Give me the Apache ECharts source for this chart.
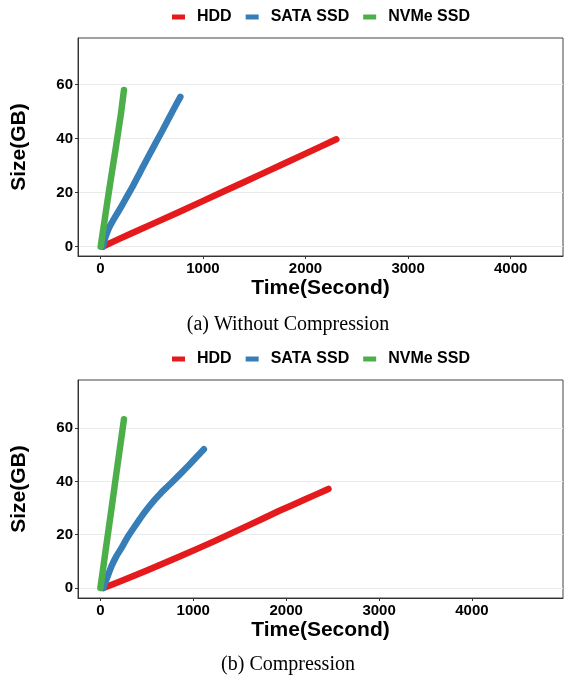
<!DOCTYPE html>
<html>
<head>
<meta charset="utf-8">
<script src="https://cdn.jsdelivr.net/npm/echarts@6/dist/echarts.min.js"></script>
<style>
html,body{margin:0;padding:0;background:#fff;}
#c{width:564px;height:678px;}
</style>
</head>
<body>
<div id="c"></div>
<script>
// ---- data ----
const seriesNames = ['HDD', 'SATA SSD', 'NVMe SSD'];
const xTickValues = [0, 1000, 2000, 3000, 4000];
const yTickValues = [0, 20, 40, 60];
const captions = ['(a) Without Compression', '(b) Compression'];

// (a) Without Compression : [time (s), size (GB)]
const hddA  = [[20,0],[300,4.9],[773,12.9],[1200,20.4],[1585,27.1],[2000,34.4],[2300,39.7]];
const sataA = [[25,0],[50,3.6],[80,6.6],[107,8.6],[150,11.4],[204,14.8],[260,18.6],[320,22.6],[380,27.0],[432,30.8],[520,37.0],[600,42.6],[700,49.8],[780,55.4]];
const nvmeA = [[3,0],[50,12],[100,24.5],[150,36.5],[200,49],[230,57.9]];

// (b) Compression
const hddB  = [[30,0],[250,3.0],[500,6.6],[853,11.8],[1229,17.6],[1600,23.6],[1927,29.0],[2200,33.2],[2455,37.2]];
const sataB = [[30,0],[64,3.1],[118,8.1],[170,11.8],[226,15.0],[300,19.5],[369,23.1],[450,27.2],[520,30.4],[584,33.1],[650,35.6],[720,38.0],[799,40.7],[880,43.5],[950,46.0],[1030,49.0],[1114,52.1]];
const nvmeB = [[0,0],[60,15],[118,29.4],[180,45],[254,63.4]];

const colors = ['#E41A1C', '#377EB8', '#4DAF4A'];
const SANS = 'Liberation Sans, Arial, sans-serif';
const SERIF = 'Liberation Serif, Times New Roman, serif';

function plain(v) { return String(v); }

function xAxisCfg(idx, min, max) {
  return {
    type: 'value', gridIndex: idx, min: min, max: max,
    axisLine: {show: true, onZero: false, lineStyle: {color: '#333', width: 1}},
    axisTick: {show: true, length: 3, customValues: xTickValues, lineStyle: {color: '#333'}},
    axisLabel: {customValues: xTickValues, formatter: plain, fontSize: 15, fontWeight: 'bold', color: '#000', margin: 5, fontFamily: SANS},
    splitLine: {show: false},
    name: 'Time(Second)', nameLocation: 'middle', nameGap: 22,
    nameTextStyle: {fontSize: 21, fontWeight: 'bold', color: '#000', fontFamily: SANS}
  };
}
function yAxisCfg(idx, min, max) {
  return {
    type: 'value', gridIndex: idx, min: min, max: max,
    axisLine: {show: true, onZero: false, lineStyle: {color: '#333', width: 1}},
    axisTick: {show: true, length: 3, customValues: yTickValues, lineStyle: {color: '#333'}},
    axisLabel: {customValues: yTickValues, formatter: plain, fontSize: 15, fontWeight: 'bold', color: '#000', margin: 5, fontFamily: SANS},
    splitLine: {show: true, lineStyle: {color: '#ebebeb', width: 1}},
    name: 'Size(GB)', nameLocation: 'middle', nameGap: 48, nameRotate: 90,
    nameTextStyle: {fontSize: 21, fontWeight: 'bold', color: '#000', fontFamily: SANS}
  };
}
function lineSeries(name, data, gi, color) {
  return {
    type: 'line', name: name, data: data, xAxisIndex: gi, yAxisIndex: gi,
    showSymbol: false, symbol: 'none', smooth: 0.15, color: color,
    lineStyle: {width: 6.5, color: color, cap: 'round', join: 'round'},
    silent: true
  };
}
function legendCfg(top) {
  return {
    top: top, left: 172, padding: 0, itemWidth: 13, itemHeight: 5, itemGap: 14, icon: 'rect',
    data: seriesNames,
    textStyle: {fontSize: 16, fontWeight: 'bold', color: '#000', fontFamily: SANS, padding: [0, 0, 0, 7]}
  };
}

const chart = echarts.init(document.getElementById('c'), null, {renderer: 'canvas'});
chart.setOption({
  animation: false,
  color: colors,
  legend: [legendCfg(9), legendCfg(351)],
  grid: [
    {left: 78, right: 1, top: 38, height: 218, show: true, borderColor: '#444', borderWidth: 1, containLabel: false},
    {left: 78, right: 1, top: 380, height: 218, show: true, borderColor: '#444', borderWidth: 1, containLabel: false}
  ],
  xAxis: [xAxisCfg(0, -218, 4510), xAxisCfg(1, -241, 4980)],
  yAxis: [yAxisCfg(0, -3.44, 77.15), yAxisCfg(1, -3.75, 78.1)],
  series: [
    lineSeries(seriesNames[0], hddA, 0, colors[0]),
    lineSeries(seriesNames[1], sataA, 0, colors[1]),
    lineSeries(seriesNames[2], nvmeA, 0, colors[2]),
    lineSeries(seriesNames[0], hddB, 1, colors[0]),
    lineSeries(seriesNames[1], sataB, 1, colors[1]),
    lineSeries(seriesNames[2], nvmeB, 1, colors[2])
  ],
  graphic: [
    {type: 'text', x: 288, y: 325, style: {text: captions[0], font: '20px ' + SERIF, fill: '#000', textAlign: 'center', textVerticalAlign: 'middle'}},
    {type: 'text', x: 288, y: 665, style: {text: captions[1], font: '20px ' + SERIF, fill: '#000', textAlign: 'center', textVerticalAlign: 'middle'}}
  ]
});
</script>
</body>
</html>
